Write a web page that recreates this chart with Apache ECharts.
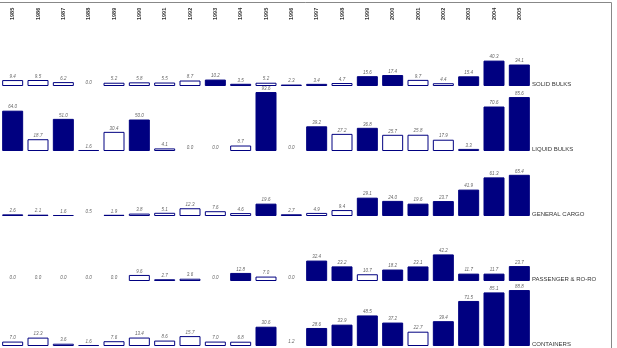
<!DOCTYPE html>
<html>
<head>
<meta charset="utf-8">
<script src="https://cdn.jsdelivr.net/npm/echarts@6/dist/echarts.min.js"></script>
<style>
  html, body { margin: 0; padding: 0; background: #fff; }
  #chart { width: 617px; height: 348px; }
</style>
</head>
<body>
<div id="chart"></div>
<script>
// years across the top
const years = ['1985','1986','1987','1988','1989','1990','1991','1992','1993','1994','1995',
               '1996','1997','1998','1999','2000','2001','2002','2003','2004','2005'];

const rowNames = ['SOLID BULKS', 'LIQUID BULKS', 'GENERAL CARGO', 'PASSENGER & RO-RO', 'CONTAINERS'];

const solidBulks     = [9.4, 9.5, 6.2, 0.0, 5.2, 5.8, 5.5, 8.7, 10.2, 3.5, 5.2, 2.3, 3.4, 4.7, 15.6, 17.4, 9.7, 4.4, 15.4, 40.3, 34.1];
const liquidBulks    = [64.0, 18.7, 51.0, 1.6, 30.4, 50.0, 4.1, 0.0, 0.0, 8.7, 93.6, 0.0, 39.2, 27.2, 36.8, 25.7, 25.8, 17.9, 3.3, 70.6, 85.6];
const generalCargo   = [2.6, 2.1, 1.6, 0.5, 1.9, 3.8, 5.1, 12.3, 7.6, 4.6, 19.6, 2.7, 4.9, 9.4, 29.1, 24.0, 19.6, 23.7, 41.9, 61.3, 65.4];
const passengerRoRo  = [0.0, 0.0, 0.0, 0.0, 0.0, 9.6, 2.7, 3.6, 0.0, 12.8, 7.0, 0.0, 32.4, 23.2, 10.7, 18.2, 23.1, 42.2, 11.7, 11.7, 23.7];
const containers     = [7.0, 13.3, 3.6, 1.6, 7.6, 13.4, 8.6, 15.7, 7.0, 6.8, 30.6, 1.2, 28.6, 33.9, 48.5, 37.2, 22.7, 39.4, 71.5, 85.1, 88.8];

// 1 = solid bar, 0 = outlined bar, -1 = label only
const solidFlags   = [0,0,0,-1,0,0,0,0,1,1,0,1,1,0,1,1,0,0,1,1,1];
const liquidFlags  = [1,0,1,1,0,1,0,-1,-1,0,1,-1,1,0,1,0,0,0,0,1,1];
const generalFlags = [1,1,1,-1,1,0,0,0,0,0,1,1,0,0,1,1,1,1,1,1,1];
const passFlags    = [-1,-1,-1,-1,-1,0,1,0,-1,1,0,-1,1,1,0,1,1,1,1,1,1];
const contFlags    = [0,0,0,1,0,0,0,0,0,0,1,-1,1,1,1,1,0,1,1,1,1];

const rowValues = [solidBulks, liquidBulks, generalCargo, passengerRoRo, containers];
const rowFlags  = [solidFlags, liquidFlags, generalFlags, passFlags, contFlags];

const NAVY = '#000080';
const baselines = [86, 151, 216, 281, 346];
const rowH = 63;
const gridLeft = 0;
const gridW = 532;

let chart = echarts.init(document.getElementById('chart'), null, { renderer: 'canvas' });

let grids = [], xAxes = [], yAxes = [], series = [], graphics = [];

rowValues.forEach((vals, r) => {
    grids.push({ left: gridLeft, width: gridW, top: baselines[r] - rowH, height: rowH });
    xAxes.push({
        type: 'category',
        gridIndex: r,
        data: years,
        position: 'top',
        axisLine: { show: false },
        axisTick: { show: false },
        axisLabel: {
            show: r === 0,
            rotate: 90,
            margin: 3,
            fontSize: 5.5,
            fontWeight: 'bold',
            fontFamily: 'Liberation Sans, Arial, sans-serif',
            color: '#333'
        }
    });
    yAxes.push({ type: 'value', gridIndex: r, min: 0, max: 100, show: false, splitLine: { show: false } });
    series.push({
        type: 'bar',
        xAxisIndex: r,
        yAxisIndex: r,
        barWidth: 21,
        data: vals.map((v, i) => {
            const f = rowFlags[r][i];
            return {
                value: v,
                itemStyle: f < 0
                    ? { color: 'rgba(0,0,0,0)', borderWidth: 0 }
                    : { color: f === 1 ? NAVY : '#fff', borderColor: NAVY, borderWidth: 1 }
            };
        }),
        label: {
            show: true,
            position: 'top',
            distance: 1,
            fontSize: 4.5,
            fontStyle: 'italic',
            fontFamily: 'Liberation Sans, Arial, sans-serif',
            color: '#666',
            formatter: p => p.value.toFixed(1)
        },
        animation: false
    });
    graphics.push({
        type: 'text',
        left: gridLeft + gridW,
        top: baselines[r] - 5,
        style: {
            text: rowNames[r],
            fontSize: 6,
            fontFamily: 'Liberation Sans, Arial, sans-serif',
            fill: '#333'
        }
    });
});

// outer frame
graphics.push({
    type: 'rect',
    shape: { x: -1, y: 2.5, width: 612.5, height: 360 },
    style: { fill: 'none', stroke: '#888', lineWidth: 1 },
    silent: true
});

chart.setOption({
    animation: false,
    grid: grids,
    xAxis: xAxes,
    yAxis: yAxes,
    series: series,
    graphic: graphics
});

window.addEventListener('resize', function () {
    chart.resize();
});
</script>
</body>
</html>
